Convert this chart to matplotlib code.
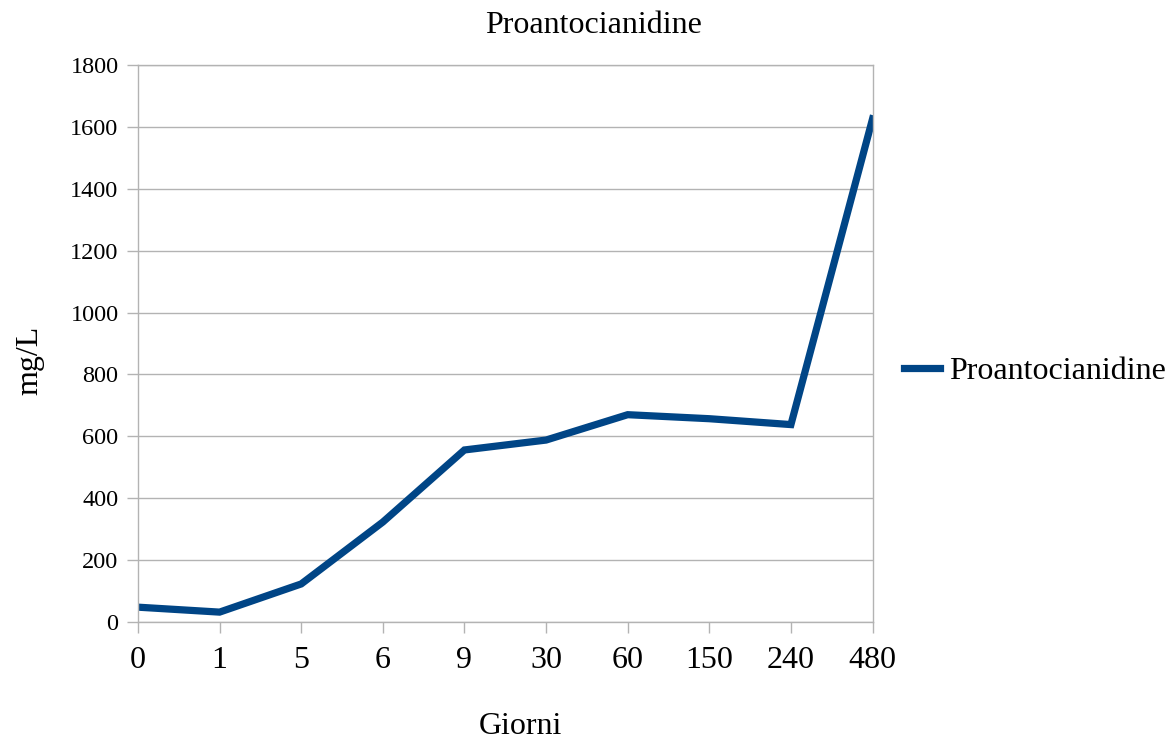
import matplotlib
matplotlib.use("Agg")
import matplotlib.pyplot as plt

giorni = ["0", "1", "5", "6", "9", "30", "60", "150", "240", "480"]
proantocianidine = [48, 32, 123, 323, 556, 588, 670, 657, 638, 1626]

plt.rcParams["font.family"] = ["Liberation Serif", "DejaVu Serif"]

fig = plt.figure(figsize=(11.72, 7.42), dpi=100)
ax = fig.add_axes([0.1177, 0.1617, 0.6268, 0.7507])

x = list(range(len(giorni)))
ax.plot(x, proantocianidine, color="#004586", linewidth=5.2,
        solid_joinstyle="miter", label="Proantocianidine")

ax.set_xlim(0, len(giorni) - 1)
ax.set_ylim(0, 1800)
ax.set_yticks(range(0, 1801, 200))
ax.set_xticks(x)
ax.set_xticklabels(giorni)

ax.grid(axis="y", color="#b3b3b3", linewidth=1)
ax.set_axisbelow(True)
for s in ax.spines.values():
    s.set_color("#b3b3b3")
    s.set_linewidth(1)
ax.tick_params(axis="both", colors="#b3b3b3", labelcolor="black",
               length=8, width=1)
ax.tick_params(axis="y", labelsize=17.5, pad=6)
ax.tick_params(axis="x", labelsize=23, pad=9)

fig.suptitle("Proantocianidine", fontsize=23, x=0.506, y=0.985, va="top")
ax.set_xlabel("Giorni", fontsize=23)
ax.xaxis.set_label_coords(0.52, -0.162)
ax.set_ylabel("mg/L", fontsize=23)
ax.yaxis.set_label_coords(-0.128, 0.47)

ax.legend(loc="center left", bbox_to_anchor=(1.0, 0.45), frameon=False,
          fontsize=23, handlelength=1.1, handletextpad=0.3,
          borderaxespad=0.6)

fig.savefig("out.png", dpi=100)
